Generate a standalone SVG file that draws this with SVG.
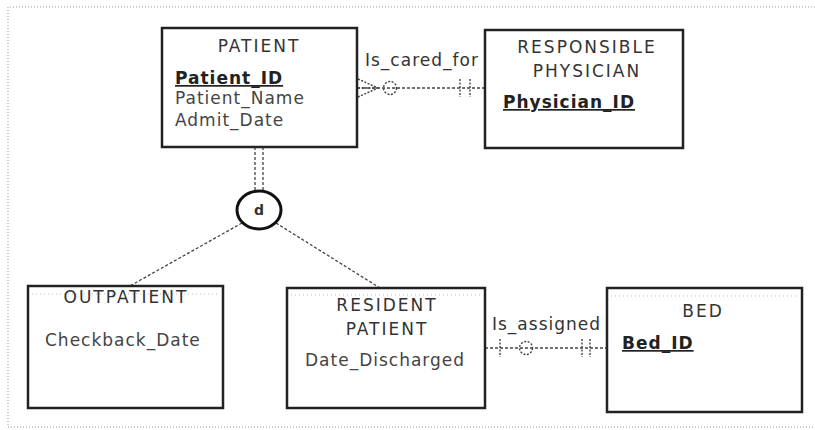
<svg xmlns="http://www.w3.org/2000/svg" width="815" height="430" viewBox="0 0 815 430">
  <style>
    .frame { fill: none; stroke: #999; stroke-width: 1; stroke-dasharray: 1 2; }
    .entity { fill: #fff; stroke: #222; stroke-width: 2.5; }
    .inner { fill: none; stroke: #bbb; stroke-width: 1; stroke-dasharray: 1 3; }
    .title { font-family: "DejaVu Sans", sans-serif; font-size: 17px; fill: #333; letter-spacing: 2px; text-anchor: middle; }
    .attr { font-family: "DejaVu Sans", sans-serif; font-size: 17px; fill: #444; letter-spacing: 1px; }
    .key { font-family: "DejaVu Sans", sans-serif; font-size: 17px; font-weight: bold; fill: #222; letter-spacing: 1px; text-decoration: underline; }
    .rel { font-family: "DejaVu Sans", sans-serif; font-size: 17px; fill: #333; letter-spacing: 1px; }
    .conn { fill: none; stroke: #444; stroke-width: 1.3; stroke-dasharray: 3 2; }
    .mark { fill: none; stroke: #444; stroke-width: 1.4; stroke-dasharray: 2 1.5; }
    .disc { fill: #fff; stroke: #111; stroke-width: 3; }
    .dtext { font-family: "DejaVu Sans", sans-serif; font-size: 14px; font-weight: bold; fill: #333; text-anchor: middle; }
  </style>

  <!-- page frame (right edge runs off the sheet) -->
  <path class="frame" d="M815,7 H8 V427 H815"/>

  <!-- connectors -->
  <g id="connectors">
    <!-- Is_cared_for: PATIENT (zero or many) to RESPONSIBLE PHYSICIAN (one and only one) -->
    <text class="rel" x="365" y="66">Is_cared_for</text>
    <line class="conn" x1="357" y1="88" x2="485" y2="88"/>
    <path class="mark" d="M358,79 L378,88 L358,97 M358,88 H378"/>
    <circle class="mark" cx="390" cy="88" r="6.5"/>
    <path class="mark" d="M460,79 V97 M470,79 V97"/>

    <!-- Is_assigned: RESIDENT PATIENT (zero or one) to BED (one and only one) -->
    <text class="rel" x="492" y="330">Is_assigned</text>
    <line class="conn" x1="485" y1="348" x2="607" y2="348"/>
    <path class="mark" d="M500,339 V357"/>
    <circle class="mark" cx="526" cy="348" r="6.5"/>
    <path class="mark" d="M582,339 V357 M590,339 V357"/>

    <!-- supertype / subtype hierarchy -->
    <path class="conn" d="M255,147 V192 M263,147 V192"/>
    <path class="conn" d="M242,223 L128,287 M276,223 L380,288"/>
  </g>

  <g id="disjoint">
    <ellipse class="disc" cx="259" cy="210" rx="22" ry="19"/>
    <text class="dtext" x="259" y="215">d</text>
  </g>

  <g id="patient">
    <rect class="entity" x="162" y="28" width="195" height="119"/>
    <text class="title" x="259" y="52">PATIENT</text>
    <text class="key" x="175" y="84">Patient_ID</text>
    <text class="attr" x="175" y="104">Patient_Name</text>
    <text class="attr" x="175" y="126">Admit_Date</text>
  </g>

  <g id="responsible-physician">
    <rect class="entity" x="485" y="30" width="198" height="118"/>
    <text class="title" x="587" y="53">RESPONSIBLE</text>
    <text class="title" x="587" y="77">PHYSICIAN</text>
    <text class="key" x="503" y="108">Physician_ID</text>
  </g>

  <g id="outpatient">
    <rect class="entity" x="28" y="286" width="195" height="122"/>
    <line class="inner" x1="32" y1="294" x2="219" y2="294"/>
    <text class="title" x="126" y="303">OUTPATIENT</text>
    <text class="attr" x="45" y="346">Checkback_Date</text>
  </g>

  <g id="resident-patient">
    <rect class="entity" x="287" y="288" width="198" height="120"/>
    <line class="inner" x1="291" y1="295" x2="481" y2="295"/>
    <text class="title" x="387" y="311">RESIDENT</text>
    <text class="title" x="387" y="335">PATIENT</text>
    <text class="attr" x="305" y="366">Date_Discharged</text>
  </g>

  <g id="bed">
    <rect class="entity" x="607" y="288" width="195" height="124"/>
    <line class="inner" x1="611" y1="296" x2="798" y2="296"/>
    <text class="title" x="703" y="317">BED</text>
    <text class="key" x="622" y="349">Bed_ID</text>
  </g>
</svg>
